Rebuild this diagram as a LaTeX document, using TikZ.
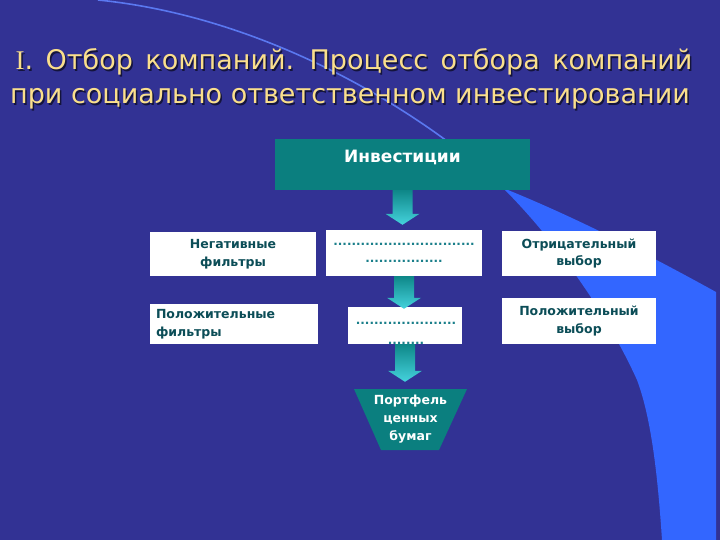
\documentclass[tikz,border=0pt]{standalone}
\usepackage{fontspec}
\setmainfont{DejaVu Sans}
\newfontfamily\romanI{Liberation Serif}
\usetikzlibrary{calc}
\definecolor{bg}{HTML}{323294}
\definecolor{band}{HTML}{3366FF}
\definecolor{bandline}{HTML}{5A78F0}
\definecolor{tealbox}{HTML}{0B7F7F}
\definecolor{labtxt}{HTML}{0B4D57}
\definecolor{dottxt}{HTML}{1A7F8A}
\definecolor{titletxt}{HTML}{FADF8C}
\definecolor{titleshadow}{HTML}{14143C}
\definecolor{arrtop}{HTML}{0E8788}
\definecolor{arrbot}{HTML}{45D3DD}
\newcommand\blockarr[3]{%
  \shade[top color=arrtop, bottom color=arrbot]
    let \p1=(#1.south), \p2=(#2.north) in
    ({\x1-10pt},{\y1}) -- ({\x1+10pt},{\y1}) -- ({\x1+10pt},{\y2+(#3)+11pt})
    -- ({\x1+17pt},{\y2+(#3)+11pt}) -- ({\x1},{\y2+(#3)})
    -- ({\x1-17pt},{\y2+(#3)+11pt}) -- ({\x1-10pt},{\y2+(#3)+11pt}) -- cycle;}
\begin{document}
\begin{tikzpicture}[x=1pt,y=-1pt,
  whitebox/.style={fill=white, inner sep=0pt, text=labtxt,
    font=\bfseries\fontsize{12.5}{17.5}\selectfont, align=center},
  dotline/.style={inner sep=0pt, text=dottxt,
    font=\bfseries\fontsize{12}{17.5}\selectfont, align=center},
  tealrect/.style={fill=tealbox, inner sep=0pt},
  tealtext/.style={inner sep=0pt, text=white,
    font=\bfseries\fontsize{12.5}{18}\selectfont, align=center},
  titlefont/.style={inner sep=0pt, anchor=base, font=\fontsize{27}{34}\selectfont},
  titlemain/.style={titlefont, text=titletxt},
  titleshade/.style={titlefont, text=titleshadow}]
\useasboundingbox (0,0) rectangle (720,540);
\fill[bg] (0,0) rectangle (720,540);
% background band
\fill[band] (503,188) .. controls (560,245) and (610,320) .. (637,380)
  .. controls (652,420) and (658,480) .. (662,540) -- (716,540) -- (716,292)
  .. controls (640,250) and (570,215) .. (503,188) -- cycle;
\draw[bandline, line width=1.6pt] (98,0) .. controls (260,16) and (415,105) .. (505,189);
% title
\node[titleshade] (t1s) at (355.5,71.5) {\spaceskip=12.5pt {\romanI I}. Отбор компаний. Процесс отбора компаний};
\node[titleshade] (t2s) at (351.5,105.5) {при социально ответственном инвестировании};
\node[titlemain] (t1) at (354,70) {\spaceskip=12.5pt {\romanI I}. Отбор компаний. Процесс отбора компаний};
\node[titlemain] (t2) at (350,104) {при социально ответственном инвестировании};
% boxes
\node[tealrect, minimum width=255, minimum height=51] (inv) at (402.5,164.5) {};
\node[tealtext, font=\bfseries\fontsize{17}{18}\selectfont] (invt) at (402.5,157) {Инвестиции};
\node[whitebox, minimum width=166, minimum height=44] (neg) at (233,254) {Негативные\\фильтры};
\node[whitebox, minimum width=156, minimum height=46] (mid1) at (404,253)
  {\textcolor{dottxt}{\fontsize{12}{17.5}\selectfont...............................}\\\textcolor{dottxt}{\fontsize{12}{17.5}\selectfont.................}};
\node[whitebox, minimum width=154, minimum height=45] (otr) at (579,253.5) {Отрицательный\\выбор};
\node[whitebox, minimum width=168, minimum height=40, text width=156, align=left] (pos) at (234,324) {Положительные\\фильтры};
\node[whitebox, minimum width=114, minimum height=37] (mid2) at (405,325.5) {};
\node[dotline] (mid2t) at (406,333) {......................\\[2.5pt]........};
\node[whitebox, minimum width=154, minimum height=46] (posv) at (579,321) {Положительный\\выбор};
% portfolio trapezoid
\fill[tealbox] (354,389) -- (467,389) -- (439,450) -- (381,450) -- cycle;
\node[tealtext, minimum width=113, minimum height=61] (port) at (410.5,419.5) {Портфель\\ценных\\бумаг};
% arrows
\blockarr{inv}{mid1}{5pt}
\blockarr{mid1}{mid2}{-2pt}
\blockarr{mid2}{port}{7pt}
\end{tikzpicture}
\end{document}
